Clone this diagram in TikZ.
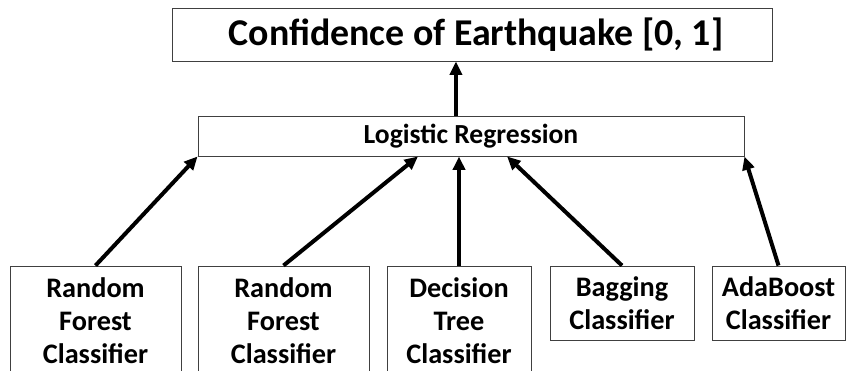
\documentclass[tikz,border=0pt]{standalone}
\usepackage{fontspec}
\setmainfont{Carlito}
\usetikzlibrary{arrows.meta,calc}

\begin{document}
\begin{tikzpicture}[
  x=0.75pt,y=-0.75pt,
  box/.style={draw=black!75,line width=0.7pt,align=center,inner sep=0pt,
    font=\bfseries\fontsize{21.2}{24.75}\selectfont},
  link/.style={-{Triangle[length=10pt,width=9pt]},line width=3pt}
]
  \clip (0,0) rectangle (846,371);

  % output and meta learner
  \node[box,minimum width=450pt,minimum height=39.75pt,
    font=\bfseries\fontsize{28.4}{32}\selectfont] (conf) at (472,34.5)
    {\hspace*{6pt}Confidence of Earthquake [0, 1]};
  \node[box,minimum width=409.5pt,minimum height=30pt,
    font=\bfseries\fontsize{20.7}{24}\selectfont] (lr) at (471,136) {Logistic Regression};

  % base classifiers
  \node[box,minimum width=128.25pt,minimum height=82.5pt] (rf1) at (95.5,321) {Random\\Forest\\Classifier};
  \node[box,minimum width=128.25pt,minimum height=82.5pt] (rf2) at (283.5,321) {Random\\Forest\\Classifier};
  \node[box,minimum width=108pt,minimum height=82.5pt] (dt) at (459,321) {Decision\\Tree\\Classifier};
  \node[box,minimum width=108pt,minimum height=55.5pt] (bag) at (622,303) {Bagging\\Classifier};
  \node[box,minimum width=99.75pt,minimum height=55.5pt] (ada) at (778.5,303) {AdaBoost\\Classifier};

  \coordinate (mid) at ($(lr.north west)!.4725!(lr.north east)$);
  \draw[link] (mid) -- (mid |- conf.south);

  \draw[link] (rf1.north) -- (lr.south west);
  \draw[link] (rf2.north) -- ($(lr.south west)!.403!(lr.south east)$);
  \draw[link] (dt.north) -- (dt.north |- lr.south);
  \draw[link] (bag.north) -- ($(lr.south west)!.566!(lr.south east)$);
  \draw[link] (ada.north) -- (lr.south east);
\end{tikzpicture}
\end{document}
